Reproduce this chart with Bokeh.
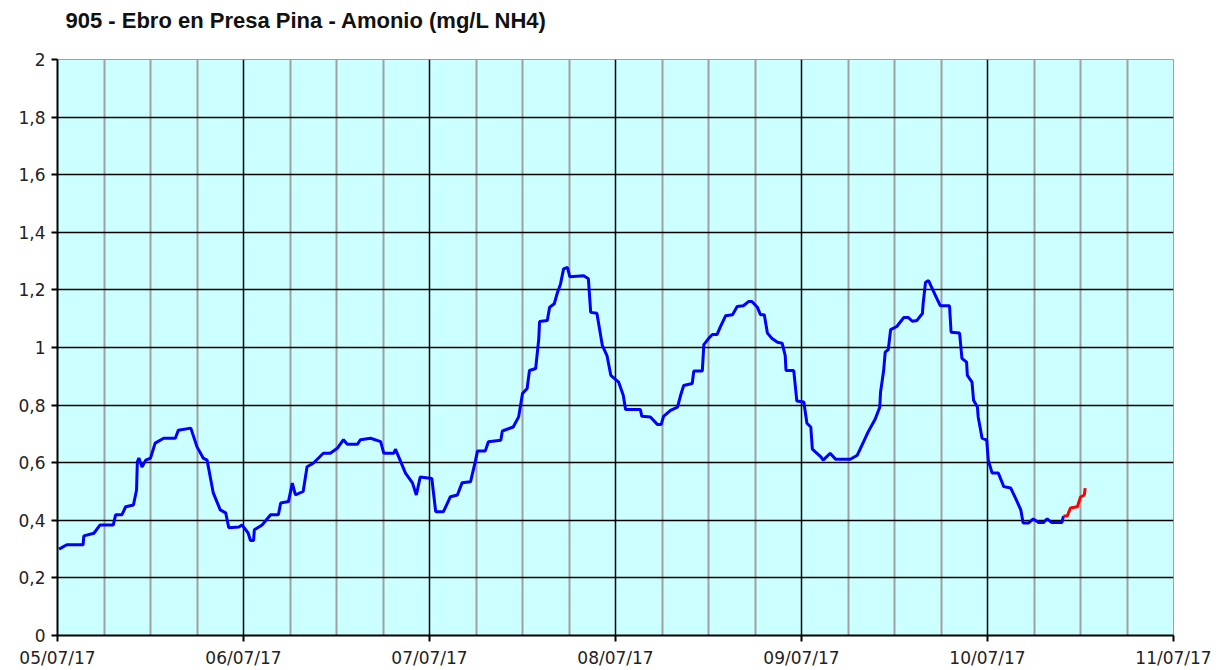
from bokeh.plotting import figure
from bokeh.models import Range1d, FixedTicker, ColumnDataSource, Title
from bokeh.embed import file_html
from bokeh.resources import INLINE

# --- data (hours since 05/07/17 00:00, ammonium mg/L NH4) ---
hours_blue = [0.2, 1.2, 3.3, 3.4, 4.7, 5.5, 7.2, 7.5, 8.3, 8.8, 9.8, 10.2, 10.3, 10.5, 10.9, 11.4, 12.0,
              12.6, 13.7, 15.2, 15.6, 17.2, 18.0, 18.8, 19.3, 20.1, 21.0, 21.7, 22.1, 23.4, 23.8, 24.6,
              24.9, 25.3, 25.4, 26.4, 27.5, 28.5, 28.8, 29.8, 30.3, 30.7, 31.7, 32.2, 33.0, 34.3, 35.2,
              36.1, 36.9, 37.4, 38.7, 39.1, 40.4, 41.7, 42.1, 43.4, 43.6, 44.3, 44.9, 45.8, 46.3, 46.8,
              48.3, 48.8, 49.8, 50.7, 51.6, 52.2, 53.3, 53.9, 54.2, 55.2, 55.6, 57.2, 57.4, 58.8, 59.5,
              60.0, 60.6, 60.9, 61.7, 62.1, 62.2, 63.2, 63.5, 64.1, 64.5, 64.9, 65.3, 65.8, 66.1, 67.9,
              68.5, 68.8, 69.6, 70.3, 70.9, 71.4, 72.4, 73.0, 73.3, 75.2, 75.4, 76.5, 77.4, 77.9, 78.2,
              79.1, 80.0, 80.4, 80.8, 81.9, 82.1, 83.2, 83.4, 84.0, 84.5, 85.1, 85.5, 86.2, 87.1, 87.7,
              88.5, 89.2, 89.6, 90.3, 90.7, 91.2, 91.6, 92.2, 92.9, 93.5, 93.9, 94.0, 95.0, 95.4, 96.3,
              96.7, 97.2, 97.4, 98.5, 98.8, 99.7, 100.4, 102.3, 103.2, 104.0, 104.6, 105.5, 106.1, 106.2,
              106.6, 106.8, 107.2, 107.5, 108.3, 109.2, 109.8, 110.3, 110.9, 111.6, 111.7, 112.0, 112.4,
              113.0, 113.9, 115.1, 115.3, 116.4, 116.7, 117.3, 117.4, 118.0, 118.2, 118.7, 118.8, 119.3,
              119.9, 120.1, 120.6, 121.4, 122.1, 123.0, 123.6, 124.3, 124.6, 125.3, 125.9, 126.6, 127.2,
              127.7, 128.3, 129.6, 129.8]
nh4_blue = [0.30, 0.315, 0.315, 0.346, 0.355, 0.384, 0.384, 0.419, 0.419, 0.447, 0.453, 0.505, 0.603,
            0.616, 0.585, 0.609, 0.616, 0.668, 0.685, 0.685, 0.713, 0.72, 0.655, 0.616, 0.609, 0.495,
            0.436, 0.426, 0.374, 0.377, 0.384, 0.356, 0.33, 0.33, 0.367, 0.384, 0.419, 0.419, 0.46,
            0.465, 0.529, 0.488, 0.50, 0.586, 0.598, 0.633, 0.633, 0.65, 0.68, 0.664, 0.664, 0.68,
            0.685, 0.673, 0.633, 0.633, 0.647, 0.603, 0.564, 0.53, 0.488, 0.55, 0.545, 0.43, 0.43,
            0.482, 0.488, 0.53, 0.534, 0.603, 0.641, 0.641, 0.673, 0.678, 0.71, 0.724, 0.759, 0.84,
            0.858, 0.92, 0.927, 1.03, 1.09, 1.094, 1.14, 1.152, 1.19, 1.22, 1.273, 1.278, 1.246, 1.249,
            1.239, 1.122, 1.119, 1.007, 0.972, 0.903, 0.88, 0.834, 0.785, 0.785, 0.761, 0.759, 0.733,
            0.733, 0.761, 0.782, 0.793, 0.834, 0.868, 0.875, 0.918, 0.918, 1.01, 1.031, 1.045, 1.045,
            1.07, 1.11, 1.114, 1.142, 1.145, 1.16, 1.16, 1.14, 1.114, 1.114, 1.05, 1.031, 1.018, 1.015,
            0.972, 0.92, 0.92, 0.814, 0.811, 0.737, 0.724, 0.647, 0.62, 0.609, 0.633, 0.612, 0.612,
            0.626, 0.672, 0.707, 0.751, 0.793, 0.845, 0.92, 0.984, 0.993, 1.062, 1.073, 1.104, 1.104,
            1.091, 1.094, 1.118, 1.153, 1.226, 1.232, 1.197, 1.145, 1.145, 1.053, 1.05, 0.962, 0.949,
            0.903, 0.88, 0.817, 0.793, 0.759, 0.685, 0.678, 0.609, 0.564, 0.564, 0.517, 0.512, 0.478,
            0.436, 0.391, 0.391, 0.405, 0.392, 0.392, 0.405, 0.392, 0.392, 0.415]
hours_red = [129.8, 130.3, 130.7, 131.6, 132.0, 132.5, 132.6]
nh4_red = [0.415, 0.415, 0.443, 0.447, 0.481, 0.488, 0.512]

x_tick_hours = [0, 24, 48, 72, 96, 120, 144]
x_tick_labels = ["05/07/17", "06/07/17", "07/07/17", "08/07/17", "09/07/17", "10/07/17", "11/07/17"]
y_ticks = [0, 0.2, 0.4, 0.6, 0.8, 1.0, 1.2, 1.4, 1.6, 1.8, 2.0]
y_tick_labels = ["0", "0,2", "0,4", "0,6", "0,8", "1", "1,2", "1,4", "1,6", "1,8", "2"]
title_text = "905 - Ebro en Presa Pina - Amonio (mg/L NH4)"

p = figure(width=1216, height=670, output_backend="svg", toolbar_location=None,
           x_range=Range1d(0, 144), y_range=Range1d(0, 2),
           min_border_left=57, min_border_right=43, min_border_top=58, min_border_bottom=34,
           background_fill_color="white", border_fill_color="white")

p.title.text = title_text
p.title.text_font = "Liberation Sans"
p.title.text_font_size = "22px"
p.title.text_font_style = "bold"
p.title.text_color = "#111111"
p.title.offset = 8

# empty spacer between the title and the plot frame
spacer = Title(text=" ", text_font_size="9px")
p.above.insert(0, spacer)

p.background_fill_color = "#ccffff"
p.outline_line_color = "#a0a0a0"
p.outline_line_width = 1

minor = [h for h in range(0, 145, 6) if h % 24 != 0]
p.xaxis.ticker = FixedTicker(ticks=x_tick_hours, minor_ticks=minor)
p.xaxis.major_label_overrides = {t: l for t, l in zip(x_tick_hours, x_tick_labels)}
p.yaxis.ticker = FixedTicker(ticks=y_ticks)
p.yaxis.major_label_overrides = {t: l for t, l in zip(y_ticks, y_tick_labels)}

for ax in (p.xaxis, p.yaxis):
    ax.axis_line_color = "black"
    ax.axis_line_width = 2
    ax.major_tick_line_color = "black"
    ax.major_tick_line_width = 2
    ax.major_tick_out = 6
    ax.major_tick_in = 0
    ax.minor_tick_line_color = None
    ax.major_label_text_font = "DejaVu Sans"
    ax.major_label_text_font_size = "17px"
    ax.major_label_text_color = "#222222"
p.xaxis.major_label_standoff = 6
p.yaxis.major_label_standoff = 6

p.xgrid.grid_line_color = "black"
p.xgrid.grid_line_width = 1.5
p.xgrid.minor_grid_line_color = "#a0a0a0"
p.xgrid.minor_grid_line_width = 2
p.ygrid.grid_line_color = "black"
p.ygrid.grid_line_width = 1.5

src_b = ColumnDataSource(dict(x=hours_blue, y=nh4_blue))
src_r = ColumnDataSource(dict(x=hours_red, y=nh4_red))
p.line("x", "y", source=src_b, line_color="#0000ff", line_width=3)
p.line("x", "y", source=src_r, line_color="#ff0000", line_width=3)

open("out.html", "w").write(file_html(p, INLINE))
